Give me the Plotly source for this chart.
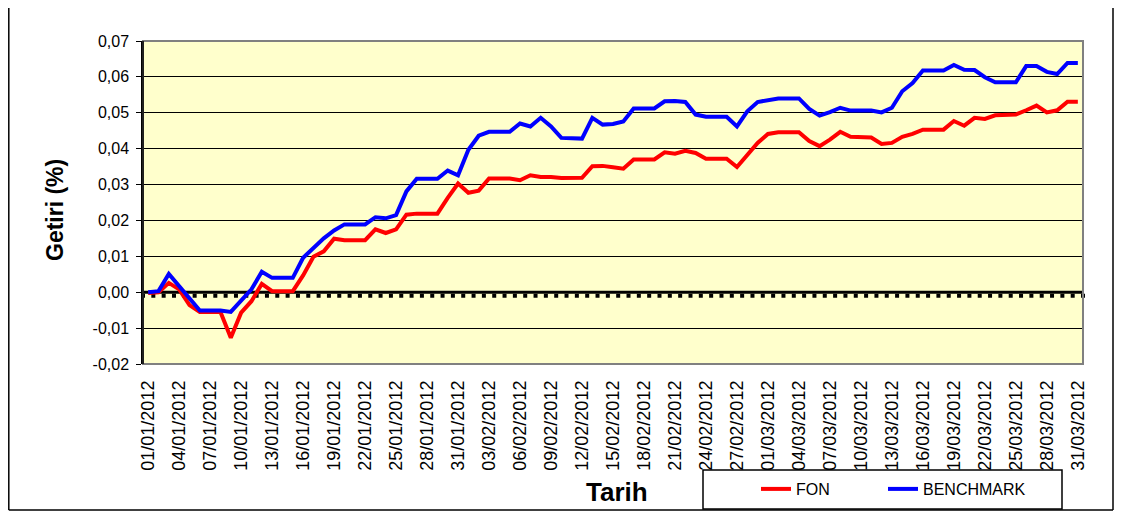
import pandas as pd
import plotly.graph_objects as go

# ---- data ----
dates = pd.date_range("2012-01-01", "2012-03-31", freq="D")

fon = [
    -0.0002, 0.0000, 0.0026, 0.0008, -0.0036, -0.0055, -0.0055, -0.0055, -0.0127, -0.0057,
    -0.0025, 0.0023, 0.0003, 0.0003, 0.0003, 0.0047, 0.0099, 0.0114, 0.0149, 0.0145,
    0.0145, 0.0145, 0.0175, 0.0165, 0.0175, 0.0216, 0.0219, 0.0219, 0.0219, 0.0263,
    0.0303, 0.0277, 0.0283, 0.0317, 0.0317, 0.0317, 0.0312, 0.0326, 0.0321, 0.0321,
    0.0318, 0.0319, 0.0319, 0.0351, 0.0352, 0.0348, 0.0344, 0.0370, 0.0370, 0.0370,
    0.0390, 0.0386, 0.0394, 0.0388, 0.0372, 0.0372, 0.0372, 0.0349, 0.0384, 0.0416,
    0.0441, 0.0446, 0.0446, 0.0446, 0.0421, 0.0407, 0.0425, 0.0447, 0.0433, 0.0433,
    0.0431, 0.0413, 0.0416, 0.0433, 0.0441, 0.0453, 0.0453, 0.0453, 0.0477, 0.0464,
    0.0486, 0.0483, 0.0493, 0.0494, 0.0495, 0.0507, 0.0520, 0.0501, 0.0507, 0.0531,
    0.0531,
]

benchmark = [
    0.0000, 0.0003, 0.0051, 0.0018, -0.0015, -0.0051, -0.0051, -0.0051, -0.0055, -0.0025,
    0.0008, 0.0057, 0.0040, 0.0040, 0.0040, 0.0096, 0.0124, 0.0150, 0.0172, 0.0189,
    0.0189, 0.0189, 0.0209, 0.0206, 0.0215, 0.0281, 0.0316, 0.0316, 0.0316, 0.0339,
    0.0326, 0.0397, 0.0436, 0.0447, 0.0447, 0.0447, 0.0470, 0.0462, 0.0486, 0.0462,
    0.0430, 0.0428, 0.0428, 0.0486, 0.0467, 0.0469, 0.0476, 0.0512, 0.0512, 0.0512,
    0.0532, 0.0533, 0.0530, 0.0495, 0.0489, 0.0489, 0.0489, 0.0462, 0.0504, 0.0530,
    0.0534, 0.0540, 0.0540, 0.0540, 0.0511, 0.0492, 0.0502, 0.0514, 0.0506, 0.0506,
    0.0506, 0.0501, 0.0514, 0.0560, 0.0583, 0.0618, 0.0618, 0.0618, 0.0633, 0.0620,
    0.0619, 0.0599, 0.0585, 0.0585, 0.0585, 0.0630, 0.0630, 0.0614, 0.0608, 0.0639,
    0.0639,
]

x_tick_vals = list(dates[::3])
x_tick_text = [d.strftime("%d/%m/%Y") for d in x_tick_vals]

y_tick_vals = [-0.02, -0.01, 0.0, 0.01, 0.02, 0.03, 0.04, 0.05, 0.06, 0.07]
y_tick_text = ["-0,02", "-0,01", "0,00", "0,01", "0,02", "0,03", "0,04", "0,05", "0,06", "0,07"]

# ---- layout geometry (page pixels; the page body has an 8px margin) ----
OFF = 8
W, H = 1122 - OFF, 512 - OFF
L, R, T, B = 143 - OFF, 1083 - OFF, 41 - OFF, 364 - OFF
PW, PH = R - L, B - T
N_CAT = len(dates)
STEP = PW / N_CAT  # pixel width of one category


def px(xp):
    return (xp - OFF - L) / PW


def py(yp):
    return (B - (yp - OFF)) / PH


FONT = "Liberation Sans, Arial, sans-serif"

fig = go.Figure()
fig.add_trace(go.Scatter(x=dates, y=fon, mode="lines", name="FON",
                         line=dict(color="#FF0000", width=4), legendwidth=82))
fig.add_trace(go.Scatter(x=dates, y=benchmark, mode="lines", name="BENCHMARK",
                         line=dict(color="#0000FF", width=4), legendwidth=130))

x_range = ["2011-12-31 12:00", "2012-03-31 12:00"]

fig.update_layout(
    width=W, height=H, autosize=False,
    margin=dict(l=L, r=W - R, t=T, b=H - B, pad=0, autoexpand=False),
    paper_bgcolor="white",
    plot_bgcolor="#FFFFCC",
    font=dict(family=FONT, color="black"),
    xaxis=dict(
        type="date", range=x_range,
        tickmode="array", tickvals=x_tick_vals, ticktext=x_tick_text,
        tickangle=-90, tickfont=dict(size=18, family=FONT, color="black"),
        showgrid=False, showline=False, zeroline=False, ticks="",
        ticklabelstandoff=12,
    ),
    yaxis=dict(
        range=[-0.02, 0.07],
        tickmode="array", tickvals=y_tick_vals, ticktext=y_tick_text,
        tickfont=dict(size=16, family=FONT, color="black"),
        showgrid=True, gridcolor="black", gridwidth=1,
        zeroline=False,
        showline=True, linecolor="black", linewidth=1.5,
        ticks="outside", ticklen=5, tickcolor="black",
        ticklabelstandoff=4,
    ),
    showlegend=True,
    legend=dict(
        orientation="h", xref="container", yref="container",
        x=(756 - OFF) / W, y=1 - (489 - OFF) / H, xanchor="left", yanchor="middle",
        font=dict(size=16, family=FONT, color="black"),
        bgcolor="rgba(0,0,0,0)", borderwidth=0,
    ),
    shapes=[
        # category axis crossing at zero: thick line
        dict(type="line", xref="paper", yref="y", x0=0, x1=1, y0=0, y1=0,
             line=dict(color="black", width=3), layer="between"),
        # its tick marks (one per category boundary), just below the line
        dict(type="line", xref="paper", yref="y", ysizemode="pixel", yanchor=0,
             x0=-2 / PW, x1=1 + 2 / PW, y0=-3.5, y1=-3.5,
             line=dict(color="black", width=4,
                       dash="4px,%.3fpx" % (STEP - 4)),
             layer="between"),
        # plot area border (gray)
        dict(type="rect", xref="paper", yref="paper", x0=0, x1=1, y0=0, y1=1,
             line=dict(color="#808080", width=2), layer="above"),
        # left axis line on top
        dict(type="line", xref="paper", yref="paper", x0=0, x1=0, y0=0, y1=1,
             line=dict(color="black", width=1.5), layer="above"),
        # outer chart border (left, right, bottom)
        dict(type="line", xref="paper", yref="paper",
             x0=px(8.8), x1=px(8.8), y0=py(510), y1=py(8),
             line=dict(color="black", width=1.5)),
        dict(type="line", xref="paper", yref="paper",
             x0=px(1113), x1=px(1113), y0=py(510), y1=py(8),
             line=dict(color="black", width=1.5)),
        dict(type="line", xref="paper", yref="paper",
             x0=px(8.8), x1=px(1113), y0=py(510), y1=py(510),
             line=dict(color="black", width=1.5)),
        # legend box
        dict(type="rect", xref="paper", yref="paper",
             x0=px(703), x1=px(1062), y0=py(509), y1=py(470),
             line=dict(color="black", width=1.5)),
    ],
    annotations=[
        dict(text="<b>Getiri (%)</b>", xref="paper", yref="paper",
             x=px(55), y=py(210), textangle=-90, showarrow=False,
             xanchor="center", yanchor="middle",
             font=dict(size=23, family=FONT, color="black")),
        dict(text="<b>Tarih</b>", xref="paper", yref="paper",
             x=px(617), y=py(492), showarrow=False,
             xanchor="center", yanchor="middle",
             font=dict(size=26, family=FONT, color="black")),
    ],
)

fig.write_html("out.html", config={"displayModeBar": False})
